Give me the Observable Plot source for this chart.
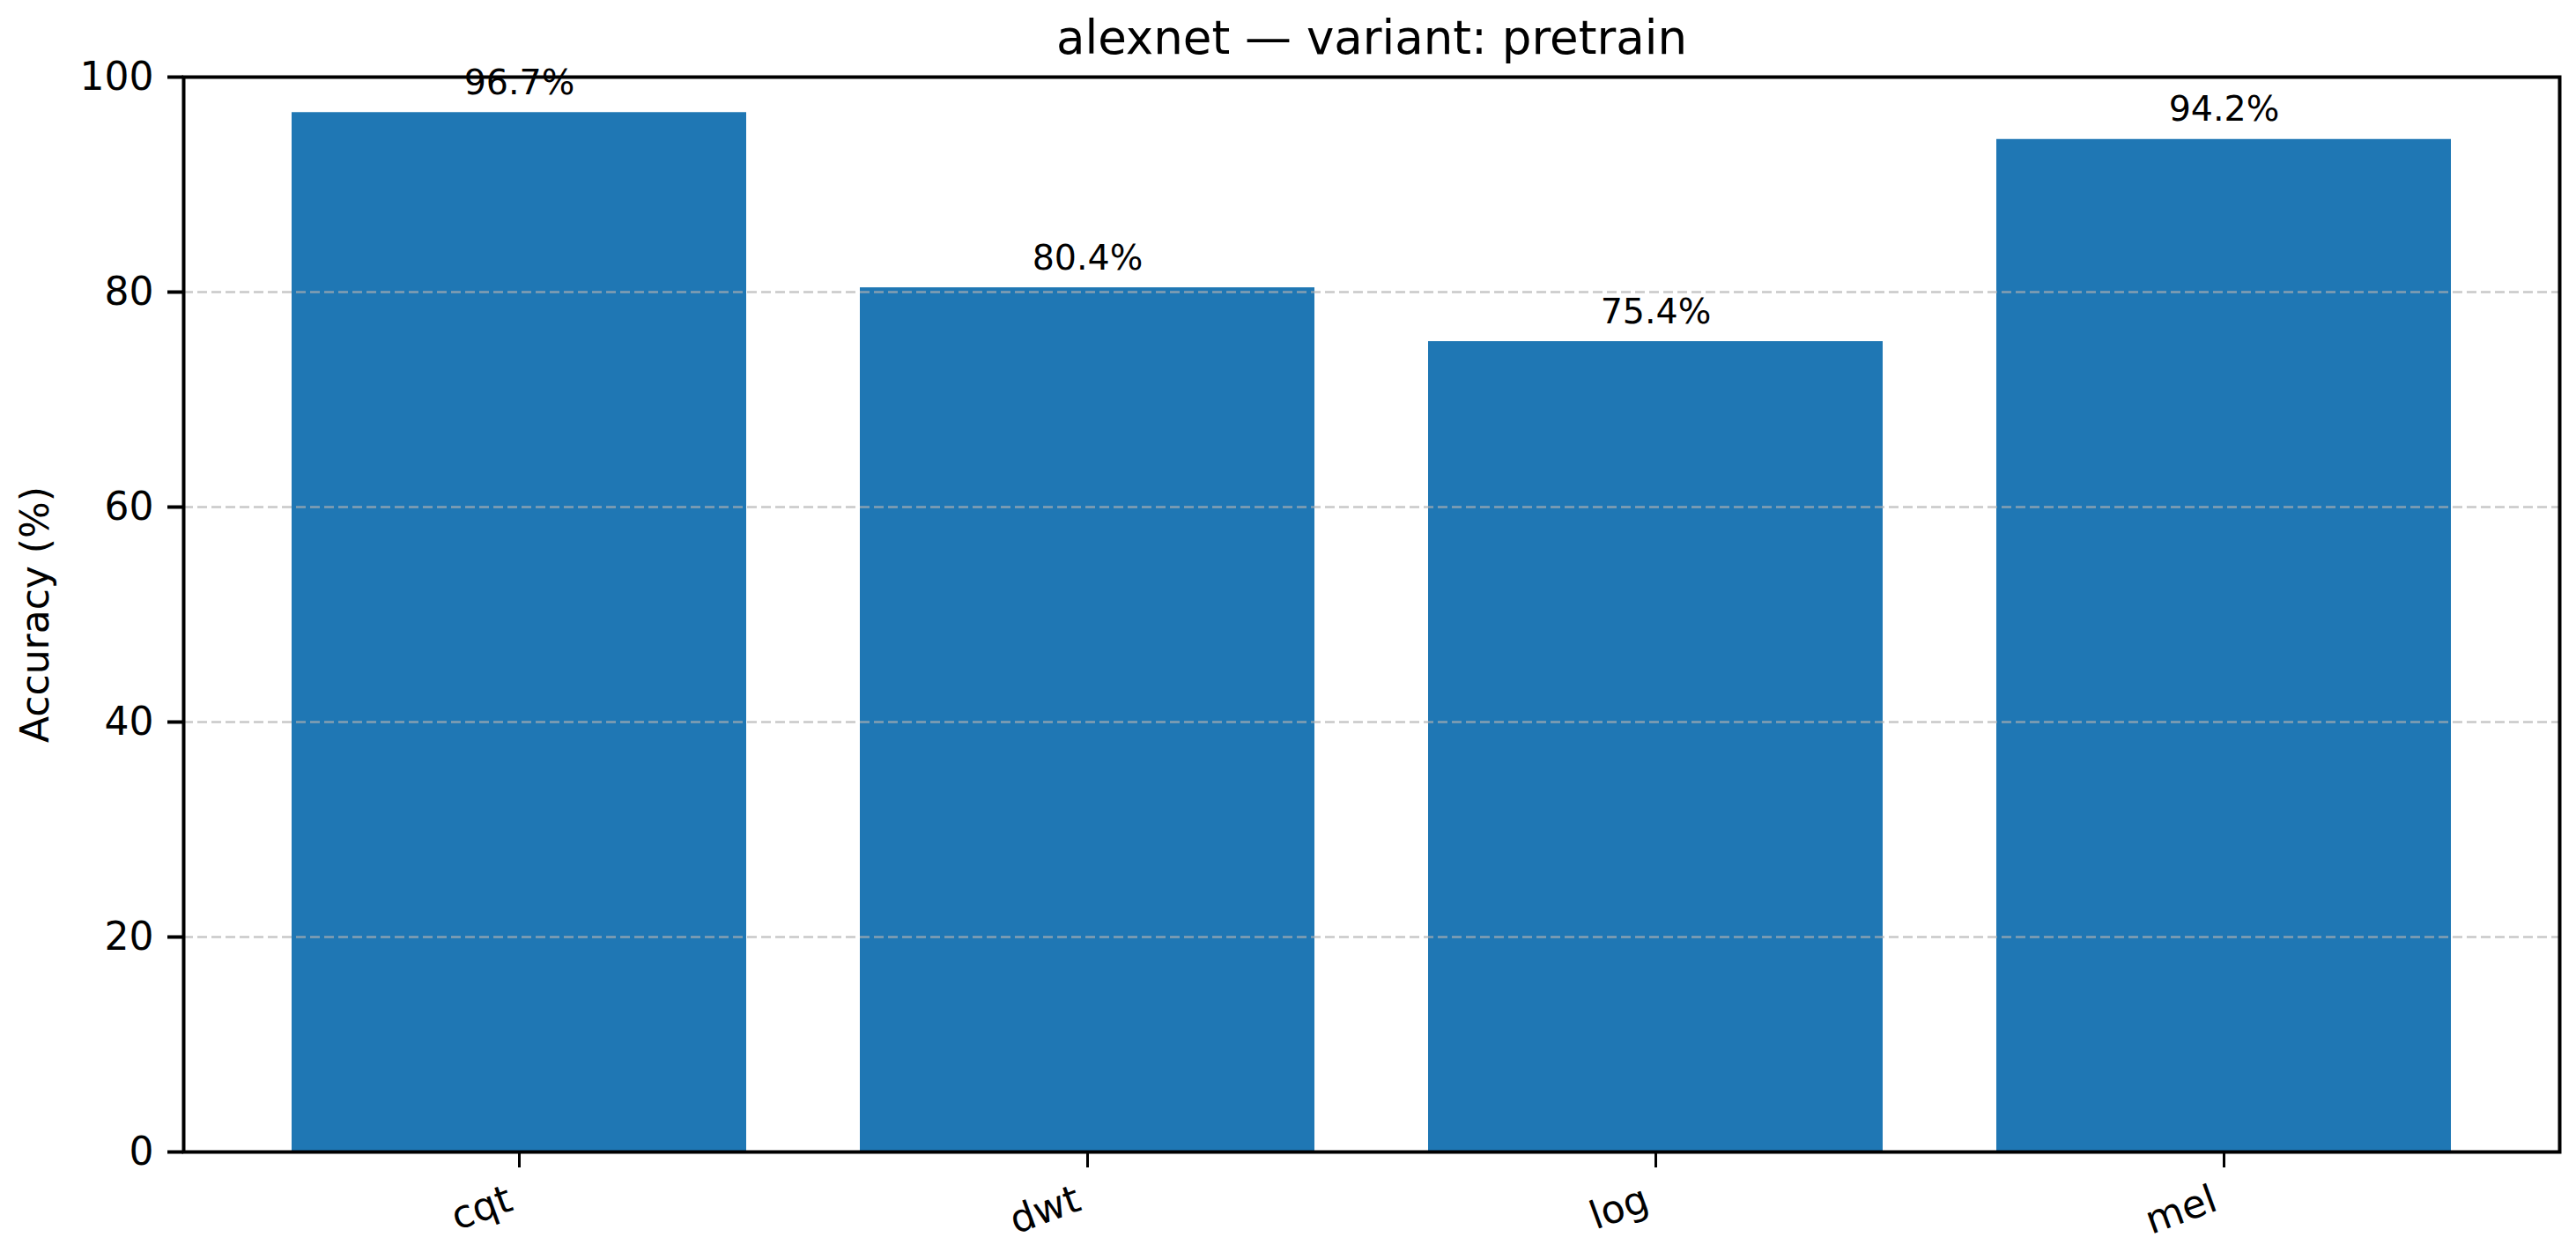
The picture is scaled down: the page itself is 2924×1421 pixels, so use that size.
<!DOCTYPE html>
<html>
<head>
<meta charset="utf-8">
<script src="https://cdn.jsdelivr.net/npm/d3@7"></script>
<script src="https://cdn.jsdelivr.net/npm/@observablehq/plot@0.6"></script>
<style>
  html, body { margin: 0; padding: 0; background: white; }
  #chart svg { display: block; }
</style>
</head>
<body>
<div id="chart"></div>
<script>
const categories = ["cqt", "dwt", "log", "mel"];
const accuracy = [96.7, 80.4, 75.4, 94.2];
const yTicks = [0, 20, 40, 60, 80, 100];
const titleText = "alexnet — variant: pretrain";
const yLabel = "Accuracy (%)";

const data = categories.map((c, i) => ({feature: c, acc: accuracy[i]}));

const chart = Plot.plot({
  width: 2924,
  height: 1421,
  marginLeft: 208,
  marginRight: 19,
  marginTop: 87,
  marginBottom: 114,
  style: {fontFamily: "'DejaVu Sans', sans-serif", background: "white", color: "black"},
  x: {domain: categories, paddingInner: 0.2, paddingOuter: 0.19, axis: null},
  y: {domain: [0, 100], axis: null},
  marks: [
    Plot.barY(data, {x: "feature", y: "acc", fill: "#1f77b4"}),
    Plot.gridY(yTicks.slice(1, -1), {stroke: "#b0b0b0", strokeOpacity: 0.7, strokeWidth: 2.5, strokeDasharray: "11,5"}),
    Plot.axisY({ticks: yTicks, tickSize: 18, tickPadding: 16, strokeWidth: 4, fontSize: 44, label: null}),
    Plot.axisX({tickSize: 18, strokeWidth: 3, tickFormat: () => "", label: null}),
    Plot.text(categories, {x: d => d, frameAnchor: "bottom", dy: 36, dx: -16, rotate: -20, textAnchor: "end", lineAnchor: "top", fontSize: 44}),
    Plot.text(data, {x: "feature", y: "acc", text: d => d.acc.toFixed(1) + "%", dy: -21, lineAnchor: "bottom", fontSize: 39.6}),
    Plot.text([yLabel], {frameAnchor: "left", dx: -168, rotate: -90, textAnchor: "middle", lineAnchor: "middle", fontSize: 44}),
    Plot.text([titleText], {frameAnchor: "top", dy: -27, textAnchor: "middle", lineAnchor: "bottom", fontSize: 53}),
    Plot.frame({stroke: "black", strokeWidth: 4})
  ]
});
document.getElementById("chart").appendChild(chart);
</script>
</body>
</html>
